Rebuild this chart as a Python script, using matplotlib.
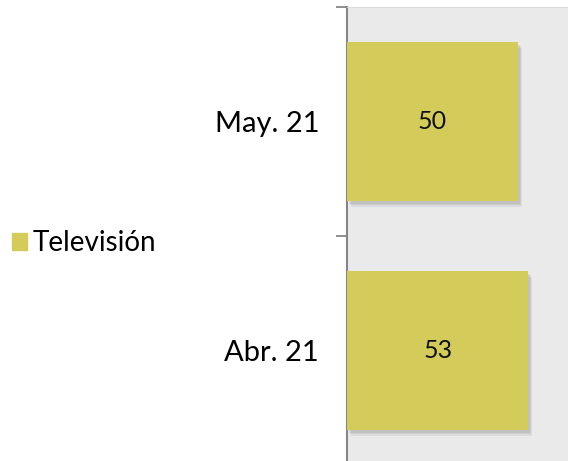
import matplotlib

matplotlib.use("Agg")
import matplotlib.pyplot as plt
import matplotlib.patheffects as pe
from matplotlib.patches import Patch

categories = ["Abr. 21", "May. 21"]
values = [53, 50]
series_name = "Televisión"

BAR = "#D4CC5A"
AXIS = "#868686"

plt.rcParams["font.family"] = ["Lato", "DejaVu Sans"]

fig = plt.figure(figsize=(5.68, 4.61), dpi=100)
ax = fig.add_axes([347 / 568, -4 / 461, 221 / 568, 458 / 461])
ax.set_facecolor("#EAEAEA")

y = range(len(categories))
bars = ax.barh(list(y), values, height=0.695, color=BAR, zorder=3)
# soft drop shadow, a few faint layers
shadow = [pe.SimplePatchShadow(offset=(d, -d * 1.4), shadow_rgbFace="#707070", alpha=0.12)
          for d in (3, 2.2, 1.4)]
for b in bars:
    b.set_path_effects(shadow + [pe.Normal()])

for i, v in enumerate(values):
    ax.text(v / 2, i, f"{v}", ha="center", va="center", fontsize=18, color="#111111", zorder=4)

ax.set_xlim(0, 64.6)
ax.set_ylim(-0.5, 1.5)
ax.set_xticks([])
ax.set_yticks(list(y))
ax.set_yticklabels(categories, fontsize=21)
ax.tick_params(axis="y", which="major", length=0, pad=20)
ax.set_yticks([-0.5, 0.5, 1.5], minor=True)
ax.tick_params(axis="y", which="minor", length=8, width=1.3, color=AXIS)

for s in ["right", "bottom"]:
    ax.spines[s].set_visible(False)
ax.spines["top"].set_color("#DADADA")
ax.spines["left"].set_color(AXIS)
ax.spines["left"].set_linewidth(1.5)

fig.legend(handles=[Patch(color=BAR)], labels=[series_name], loc="center left",
           bbox_to_anchor=(12 / 568, 1 - 243 / 461), frameon=False, fontsize=20,
           borderpad=0, borderaxespad=0,
           handlelength=0.55, handleheight=0.55, handletextpad=0.2)

fig.savefig("out.png", dpi=100)
